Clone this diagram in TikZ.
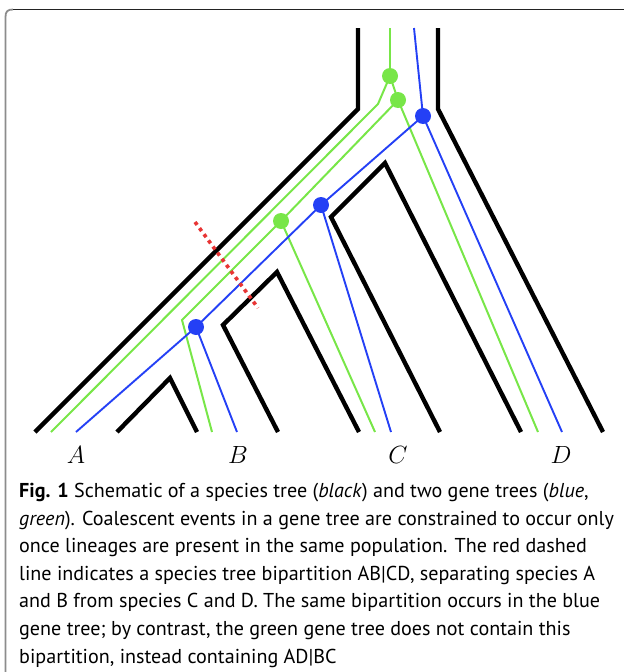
\documentclass[tikz,border=0pt]{standalone}
\usepackage{fontspec}
\setsansfont{PT Sans}
\definecolor{ggreen}{RGB}{120,230,72}
\definecolor{gblue}{RGB}{36,64,245}
\definecolor{gred}{RGB}{232,52,52}
\definecolor{frameg}{RGB}{140,140,140}
\definecolor{framet}{RGB}{35,35,35}
\begin{document}
\begin{tikzpicture}[x=1pt,y=-1pt,
  sp/.style={draw=black, line width=4.4pt},
  gl/.style={draw=ggreen, line width=2pt},
  bl/.style={draw=gblue, line width=1.9pt},
  gdot/.style={circle, fill=ggreen, inner sep=0pt, minimum size=16pt},
  bdot/.style={circle, fill=gblue, inner sep=0pt, minimum size=16pt},
  lab/.style={font=\fontsize{29}{30}\selectfont},
  captxt/.style={anchor=base west, inner sep=0pt, font=\sffamily\fontsize{20.1}{24}\selectfont}
]
\useasboundingbox (0,0) rectangle (624,672);
% frame
\draw[draw=frameg, line width=1.8pt] (5.5,672) -- (5.5,17) .. controls (5.5,11.5) and (7.5,9.5) .. (13,9.5);
\draw[draw=framet, line width=1.4pt] (13,9.5) -- (624,9.5);

% species tree (black)
\draw[sp] (358,28) -- (358,109) -- (35,432);
\draw[sp] (438,28) -- (438,109) -- (603,432);
\draw[sp] (117,432) -- (170,378) -- (197,432);
\draw[sp] (278,432) -- (223,325) -- (277,272) -- (359,432);
\draw[sp] (440,432) -- (331,217) -- (385,163) -- (521,432);

% green gene tree
\coordinate (g0) at (390,28);
\coordinate (g1) at (390,76);
\coordinate (gk1) at (378,104);
\coordinate (gA) at (51,432);
\coordinate (g2) at (398,100);
\coordinate (g3) at (281,221);
\coordinate (gk3) at (182,320);
\coordinate (gB) at (212,432);
\coordinate (gC) at (375,432);
\coordinate (gD) at (538,432);
\draw[gl] (g0) -- (g1);
\draw[gl] (g1) -- (gk1) -- (gA);
\draw[gl] (g1) -- (g2);
\draw[gl] (g2) -- (gD);
\draw[gl] (g2) -- (g3);
\draw[gl] (g3) -- (gk3) -- (gB);
\draw[gl] (g3) -- (gC);

% blue gene tree
\coordinate (b0) at (414,28);
\coordinate (b1) at (423,116);
\coordinate (b2) at (321,205);
\coordinate (b3) at (196,327);
\coordinate (bA) at (76,432);
\coordinate (bB) at (237,432);
\coordinate (bC) at (391,432);
\coordinate (bD) at (562,432);
\draw[bl] (b0) -- (b1);
\draw[bl] (b1) -- (bD);
\draw[bl] (b1) -- (b2);
\draw[bl] (b2) -- (bC);
\draw[bl] (b2) -- (b3);
\draw[bl] (b3) -- (bA);
\draw[bl] (b3) -- (bB);

% coalescent events
\node[gdot] (G1) at (g1) {};
\node[gdot] (G2) at (g2) {};
\node[gdot] (G3) at (g3) {};
\node[bdot] (B1) at (b1) {};
\node[bdot] (B2) at (b2) {};
\node[bdot] (B3) at (b3) {};

% bipartition
\coordinate (r1) at (195,222);
\coordinate (r2) at (258,308);
\draw[draw=gred, line width=3.6pt, dash pattern=on 3.6pt off 4pt] (r1) -- (r2);

% labels
\node[lab] (LA) at (76,455) {$A$};
\node[lab] (LB) at (238,455) {$B$};
\node[lab] (LC) at (398,455) {$C$};
\node[lab] (LD) at (561,455) {$D$};

% caption
\node[captxt] (c1) at (19,497.5) {\textbf{Fig. 1} Schematic of a species tree (\textit{black}) and two gene trees (\textit{blue},};
\node[captxt] (c2) at (19,525.1) {\textit{green}). Coalescent events in a gene tree are constrained to occur only};
\node[captxt] (c3) at (19,552.7) {once lineages are present in the same population. The red dashed};
\node[captxt] (c4) at (19,580.3) {line indicates a species tree bipartition AB|CD, separating species A};
\node[captxt] (c5) at (19,607.9) {and B from species C and D. The same bipartition occurs in the blue};
\node[captxt] (c6) at (19,635.5) {gene tree; by contrast, the green gene tree does not contain this};
\node[captxt] (c7) at (19,663.1) {bipartition, instead containing AD|BC};
\end{tikzpicture}
\end{document}
